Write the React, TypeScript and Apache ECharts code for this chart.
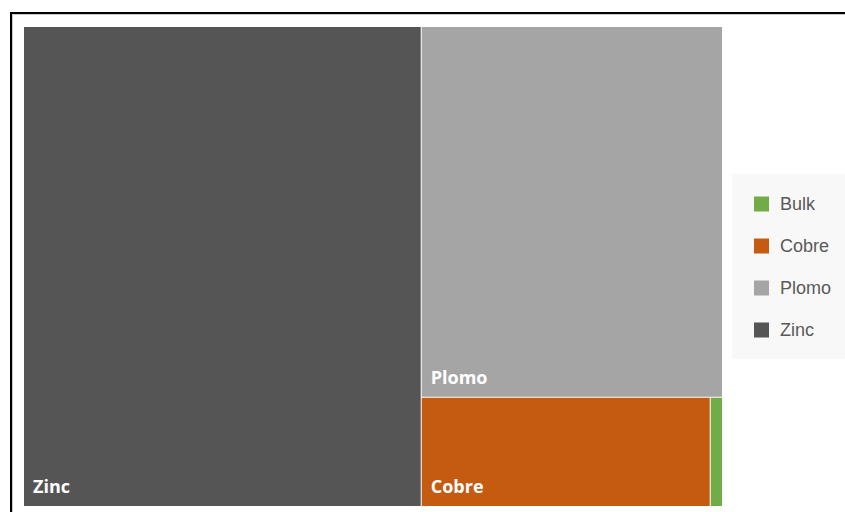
import React, { useEffect, useRef } from "react";
import * as echarts from "echarts";

const categories = ["Zinc", "Plomo", "Cobre", "Bulk"];
const values = [56.9, 33.3, 9.4, 0.4];
const colors = ["#555555", "#A5A5A5", "#C55A11", "#70AD47"];
const legendOrder = ["Bulk", "Cobre", "Plomo", "Zinc"];

export default function App() {
  const ref = useRef<HTMLDivElement>(null);
  useEffect(() => {
    if (!ref.current) return;
    const chart = echarts.init(ref.current, undefined, { renderer: "svg" });
    const colorOf = (name: string) => colors[categories.indexOf(name)];
    const legendGraphics: any[] = [
      {
        type: "rect",
        shape: { x: 732, y: 174, width: 120, height: 185 },
        style: { fill: "#F8F8F8" },
        silent: true,
      },
    ];
    legendOrder.forEach((name, i) => {
      const cy = 204 + i * 42;
      legendGraphics.push({
        type: "rect",
        shape: { x: 754, y: cy - 7.5, width: 15, height: 15 },
        style: { fill: colorOf(name) },
        silent: true,
      });
      legendGraphics.push({
        type: "text",
        x: 780,
        y: cy,
        style: {
          text: name,
          font: '18px "Liberation Sans", Arial, sans-serif',
          fill: "#595959",
          textVerticalAlign: "middle",
          verticalAlign: "middle",
        },
        silent: true,
      });
    });
    chart.setOption({
      animation: false,
      backgroundColor: "#ffffff",
      tooltip: { show: false },
      graphic: [
        ...legendGraphics,
        {
          type: "rect",
          shape: { x: 11, y: 13, width: 900, height: 600 },
          style: { fill: "none", stroke: "#000000", lineWidth: 2 },
          silent: true,
          z: 100,
        },
        {
          type: "rect",
          shape: { x: 12.5, y: 14.5, width: 900, height: 600 },
          style: { fill: "none", stroke: "#cccccc", lineWidth: 1 },
          silent: true,
          z: 99,
        },
      ],
      series: [
        {
          type: "treemap",
          left: 24,
          top: 27,
          width: 698,
          height: 479,
          roam: false,
          nodeClick: false,
          breadcrumb: { show: false },
          visibleMin: 0,
          sort: "desc",
          levels: [
            {
              itemStyle: { borderWidth: 0, gapWidth: 1, borderColor: "#ffffff" },
            },
          ],
          label: {
            show: true,
            position: "insideBottomLeft",
            distance: 4,
            offset: [0, -2],
            color: "#ffffff",
            fontFamily: '"Open Sans", sans-serif',
            fontWeight: "bold",
            fontSize: 18,
          },
          emphasis: { disabled: true },
          data: categories.map((name, i) => ({
            name,
            value: values[i],
            itemStyle: { color: colors[i], borderWidth: 0 },
            label: { show: name !== "Bulk" },
          })),
        },
      ],
    });
    return () => chart.dispose();
  }, []);
  return (
    <div
      ref={ref}
      style={{ position: "absolute", left: 0, top: 0, width: 845, height: 512 }}
    />
  );
}
